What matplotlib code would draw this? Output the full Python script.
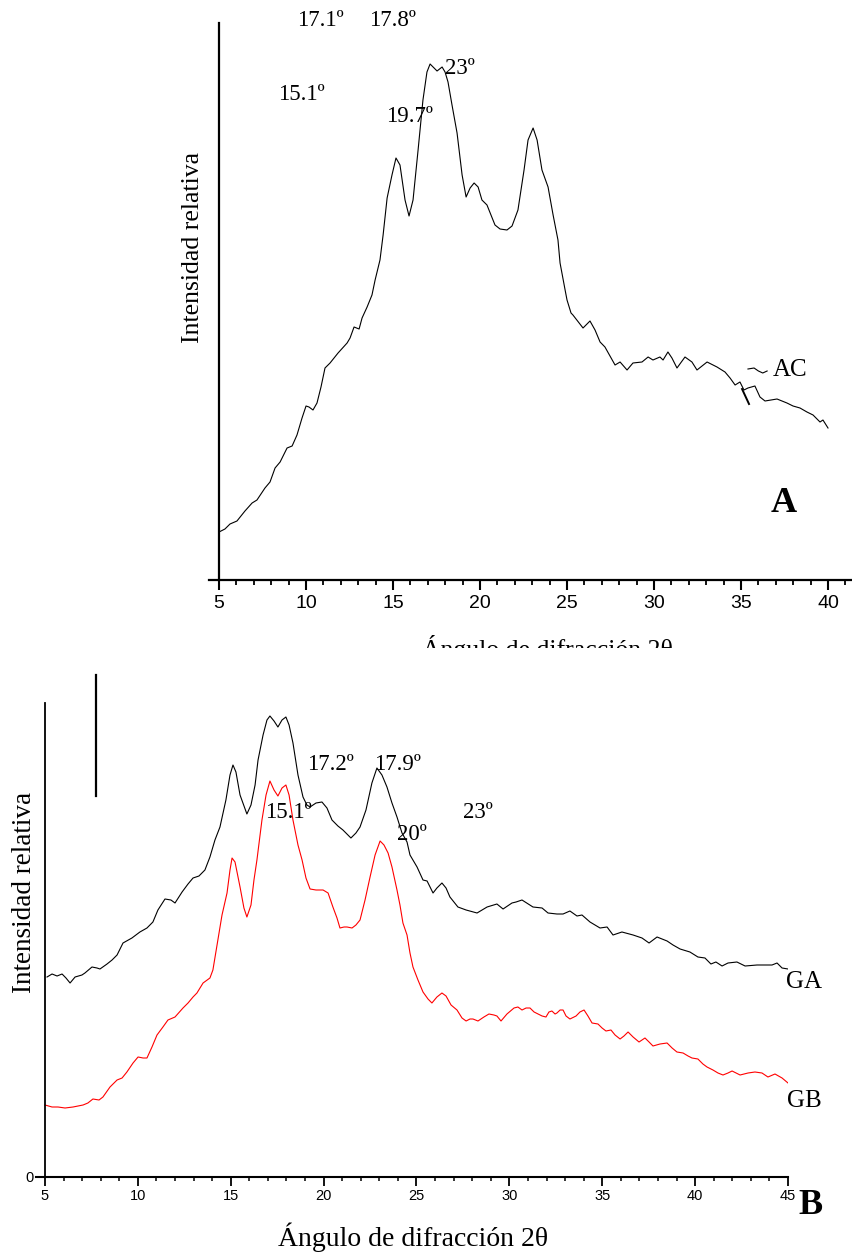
import matplotlib
matplotlib.use("Agg")
import matplotlib.pyplot as plt
from matplotlib.ticker import MultipleLocator

# ---- panel A: AC diffractogram (2theta, relative intensity) ----
ac_theta = [5.00, 5.34, 5.63, 6.03, 6.49, 6.90, 7.18, 7.64, 7.93, 8.22, 8.51, 8.91,
            9.20, 9.48, 9.77, 10.00, 10.17, 10.40, 10.63, 10.86, 11.09, 11.38, 11.84,
            12.36, 12.53, 12.76, 13.05, 13.22, 13.51, 13.79, 13.97, 14.25, 14.43, 14.66,
            14.94, 15.17, 15.40, 15.69, 15.92, 16.15, 16.44, 16.72, 16.95, 17.13, 17.36,
            17.53, 17.82, 17.99, 18.16, 18.39, 18.68, 18.97, 19.20, 19.43, 19.66, 19.89,
            20.11, 20.40, 20.63, 20.86, 21.15, 21.55, 21.84, 22.18, 22.53, 22.76, 23.05,
            23.28, 23.56, 23.91, 24.20, 24.48, 24.60, 24.89, 25.00, 25.23, 25.34, 25.92,
            26.32, 26.61, 26.90, 27.18, 27.76, 28.05, 28.45, 28.79, 29.31, 29.66, 29.94,
            30.34, 30.52, 30.80, 31.03, 31.32, 31.78, 32.18, 32.47, 33.05, 33.62, 34.08,
            34.37, 34.66, 34.94, 35.17, 35.40, 35.80, 36.09, 36.38, 37.07, 37.64, 37.99,
            38.39, 38.79, 39.14, 39.54, 39.71, 40.00]
ac_int = [48, 51, 56, 59, 69, 77, 80, 92, 98, 112, 118, 132,
          134, 145, 162, 174, 173, 170, 177, 193, 212, 217, 227,
          237, 242, 253, 251, 262, 273, 285, 300, 320, 345, 382,
          405, 422, 415, 380, 364, 380, 430, 480, 508, 516, 512,
          509, 513, 508, 498, 475, 447, 405, 383, 392, 397, 393,
          380, 375, 365, 355, 351, 350, 354, 370, 410, 440, 452,
          440, 410, 393, 365, 340, 317, 290, 280, 267, 265, 252,
          259, 250, 238, 233, 215, 218, 210, 217, 218, 223, 220,
          223, 220, 228, 222, 212, 223, 218, 210, 218, 213, 208,
          202, 195, 198, 190, 192, 194, 183, 179, 181, 177, 174,
          172, 168, 165, 158, 160, 152]

# ---- panel B: GA (black) and GB (red) ----
ga_theta = [5.11, 5.38, 5.65, 5.92, 6.13, 6.35, 6.62, 6.99, 7.15, 7.53, 7.80, 7.96,
            8.34, 8.61, 8.88, 9.20, 9.68, 10.11, 10.49, 10.81, 11.08, 11.46, 11.78,
            12.00, 12.38, 12.70, 12.97, 13.29, 13.61, 13.88, 14.15, 14.42, 14.74, 14.96,
            15.12, 15.28, 15.50, 15.87, 16.09, 16.31, 16.47, 16.74, 16.95, 17.11, 17.33,
            17.54, 17.76, 17.97, 18.14, 18.35, 18.62, 18.89, 19.10, 19.27, 19.59, 19.91,
            20.18, 20.45, 20.77, 21.04, 21.47, 21.74, 21.96, 22.28, 22.60, 22.87, 23.14,
            23.41, 23.68, 23.95, 24.22, 24.49, 24.65, 25.03, 25.35, 25.57, 25.89, 26.10,
            26.37, 26.59, 26.80, 27.23, 27.67, 28.26, 28.80, 29.33, 29.66, 30.14, 30.36,
            30.68, 31.27, 31.76, 32.08, 32.56, 32.89, 33.26, 33.64, 33.91, 34.34, 34.88,
            35.26, 35.58, 36.06, 36.66, 37.14, 37.52, 37.95, 38.49, 38.81, 39.19, 39.72,
            40.15, 40.53, 40.85, 41.12, 41.45, 41.77, 42.25, 42.69, 43.33, 44.14, 44.41,
            44.68, 45.00]
ga_int = [200, 203, 201, 203, 199, 194, 200, 202, 204, 210, 209, 208,
          213, 217, 222, 234, 239, 245, 249, 255, 267, 278, 277,
          274, 285, 293, 299, 301, 307, 320, 337, 350, 377, 402,
          412, 405, 382, 363, 372, 392, 417, 442, 457, 461, 456,
          450, 457, 460, 452, 434, 402, 380, 372, 370, 374, 375,
          369, 357, 351, 347, 339, 344, 350, 367, 394, 409, 402,
          390, 374, 360, 344, 335, 322, 310, 297, 296, 284, 289,
          294, 289, 280, 270, 267, 264, 270, 273, 268, 274, 275,
          277, 270, 269, 264, 263, 263, 266, 261, 262, 255, 249,
          250, 242, 245, 242, 239, 234, 240, 236, 232, 228, 225,
          220, 219, 213, 215, 211, 214, 215, 211, 212, 212, 214,
          209, 208]

gb_theta = [5.00, 5.38, 5.70, 6.08, 6.51, 7.05, 7.31, 7.58, 7.91, 8.12, 8.50, 8.88,
            9.15, 9.41, 9.74, 10.01, 10.28, 10.49, 10.76, 11.03, 11.35, 11.62, 12.00,
            12.43, 12.70, 12.97, 13.18, 13.51, 13.88, 14.04, 14.31, 14.53, 14.80, 14.96,
            15.07, 15.23, 15.50, 15.71, 15.87, 16.09, 16.25, 16.41, 16.68, 16.90, 17.11,
            17.33, 17.54, 17.76, 17.97, 18.14, 18.35, 18.62, 18.84, 19.05, 19.27, 19.59,
            19.97, 20.24, 20.50, 20.72, 20.88, 21.10, 21.26, 21.53, 21.74, 21.96, 22.23,
            22.50, 22.77, 23.04, 23.25, 23.47, 23.68, 23.95, 24.11, 24.27, 24.49, 24.65,
            24.81, 25.08, 25.35, 25.62, 25.83, 26.10, 26.37, 26.59, 26.86, 27.18, 27.45,
            27.67, 27.88, 28.04, 28.31, 28.63, 28.90, 29.17, 29.33, 29.55, 29.87, 30.25,
            30.46, 30.68, 30.90, 31.11, 31.33, 31.54, 31.76, 31.97, 32.13, 32.29, 32.46,
            32.56, 32.73, 32.89, 33.05, 33.26, 33.59, 33.80, 34.02, 34.23, 34.45, 34.77,
            34.99, 35.20, 35.47, 35.69, 35.96, 36.17, 36.39, 36.66, 36.98, 37.30, 37.52,
            37.73, 38.11, 38.49, 38.76, 39.02, 39.35, 39.62, 39.83, 40.15, 40.42, 40.64,
            40.96, 41.23, 41.50, 41.77, 41.99, 42.20, 42.42, 42.85, 43.22, 43.60, 43.92,
            44.30, 44.68, 45.00]
gb_int = [72, 70, 70, 69, 70, 72, 74, 78, 77, 80, 90, 97,
          99, 105, 114, 120, 119, 119, 130, 142, 150, 157, 160,
          169, 174, 180, 184, 194, 199, 207, 237, 262, 284, 307,
          319, 315, 290, 269, 260, 272, 297, 317, 357, 382, 396,
          387, 381, 389, 392, 382, 357, 332, 317, 299, 288, 287,
          287, 284, 270, 259, 249, 250, 250, 249, 252, 257, 277,
          300, 322, 336, 332, 324, 310, 287, 272, 254, 242, 224,
          210, 197, 185, 178, 174, 180, 184, 181, 172, 167, 159,
          156, 158, 158, 156, 160, 163, 162, 161, 156, 163, 169,
          170, 167, 169, 169, 165, 163, 161, 160, 165, 166, 163,
          164, 167, 167, 161, 158, 161, 165, 167, 161, 154, 153,
          149, 146, 147, 142, 138, 141, 145, 140, 135, 139, 135,
          131, 133, 134, 129, 125, 124, 121, 119, 118, 113, 110,
          107, 104, 102, 104, 106, 104, 102, 104, 105, 104, 100,
          103, 99, 94]

peaks_a = ["17.1º", "17.8º", "15.1º", "19.7º", "23º"]
peaks_b = ["17.2º", "17.9º", "15.1º", "20º", "23º"]

W, H = 852, 1254
serif = "Liberation Serif"
sans = "Liberation Sans"

fig = plt.figure(figsize=(W / 100, H / 100), dpi=100)

# ---------- panel A ----------
ax_a = fig.add_axes([208.6 / W, 1 - 580 / H, 654.2 / W, 557 / H])
ax_a.plot(ac_theta, ac_int, color="black", lw=0.8)
ax_a.set_xlim(4.4, 42)
ax_a.set_ylim(0, 557)
for s in ["top", "right"]:
    ax_a.spines[s].set_visible(False)
ax_a.spines["left"].set_position(("data", 5))
ax_a.spines["left"].set_linewidth(1.6)
ax_a.spines["bottom"].set_linewidth(1.6)
ax_a.set_yticks([])
ax_a.xaxis.set_major_locator(MultipleLocator(5))
ax_a.xaxis.set_minor_locator(MultipleLocator(1))
ax_a.tick_params(axis="x", which="major", direction="out", length=7, width=1.5,
                 pad=4, labelsize=14)
ax_a.tick_params(axis="x", which="minor", direction="out", length=3.5, width=1.3)
for lab in ax_a.get_xticklabels():
    lab.set_family(sans)

# stray marks near the AC tag
ax_a.plot([35.06, 35.46], [191, 176], color="black", lw=1.4)
ax_a.plot([35.40, 35.75, 36.0, 36.25, 36.5], [211, 212, 209, 207, 209], color="black", lw=0.8)
ax_a.text(37.8, 210, "AC", family=serif, fontsize=18, ha="center", va="center")
ax_a.text(37.47, 77, "A", family=serif, fontsize=26, fontweight="bold", ha="center", va="center")

pos_a = [(10.80, 559), (14.94, 559), (9.71, 486), (15.92, 463), (18.85, 511)]
for txt, (x, y) in zip(peaks_a, pos_a):
    ax_a.text(x, y, txt, family=serif, fontsize=16.5, ha="center", va="center")

fig.text(193 / W, 1 - 247 / H, "Intensidad relativa", family=serif, fontsize=18.5,
         rotation=90, ha="center", va="center")
# this label is partly hidden by panel B, as in the original figure
fig.text(547 / W, 1 - 648 / H, "Ángulo de difracción 2θ", family=serif, fontsize=18.5,
         ha="center", va="center", zorder=1)

# ---------- panel B ----------
ax_b = fig.add_axes([35.7 / W, 1 - 1177 / H, 752.3 / W, 529 / H])
ax_b.set_zorder(5)
ax_b.plot(ga_theta, ga_int, color="black", lw=0.8)
ax_b.plot(gb_theta, gb_int, color="red", lw=0.8)
ax_b.set_xlim(4.5, 45)
ax_b.set_ylim(0, 529)
for s in ["top", "right"]:
    ax_b.spines[s].set_visible(False)
ax_b.spines["left"].set_position(("data", 5))
ax_b.spines["left"].set_bounds(0, 474)
ax_b.spines["left"].set_linewidth(1.3)
ax_b.spines["bottom"].set_linewidth(1.5)
ax_b.set_yticks([0])
ax_b.tick_params(axis="y", direction="out", length=6, width=1.3, labelsize=10.5, pad=2)
ax_b.xaxis.set_major_locator(MultipleLocator(5))
ax_b.xaxis.set_minor_locator(MultipleLocator(1))
ax_b.tick_params(axis="x", which="major", direction="out", length=6.5, width=1.3,
                 pad=2, labelsize=10.5)
ax_b.tick_params(axis="x", which="minor", direction="out", length=3, width=1.1)
for lab in ax_b.get_xticklabels() + ax_b.get_yticklabels():
    lab.set_family(sans)

ax_b.plot([7.75, 7.75], [381, 502], color="black", lw=1.6)

pos_b = [(20.34, 412), (24.0, 412), (18.08, 365), (24.76, 342), (28.28, 365)]
for txt, (x, y) in zip(peaks_b, pos_b):
    ax_b.text(x, y, txt, family=serif, fontsize=16.5, ha="center", va="center")

ax_b.text(45.86, 195, "GA", family=serif, fontsize=18, ha="center", va="center")
ax_b.text(45.9, 76, "GB", family=serif, fontsize=18, ha="center", va="center")
ax_b.text(46.2, -28, "B", family=serif, fontsize=26, fontweight="bold", ha="center", va="center")

fig.text(413 / W, 1 - 1237 / H, "Ángulo de difracción 2θ", family=serif, fontsize=20,
         ha="center", va="center")
fig.text(25 / W, 1 - 892 / H, "Intensidad relativa", family=serif, fontsize=19.5,
         rotation=90, ha="center", va="center")

fig.savefig("out.png", dpi=100)
